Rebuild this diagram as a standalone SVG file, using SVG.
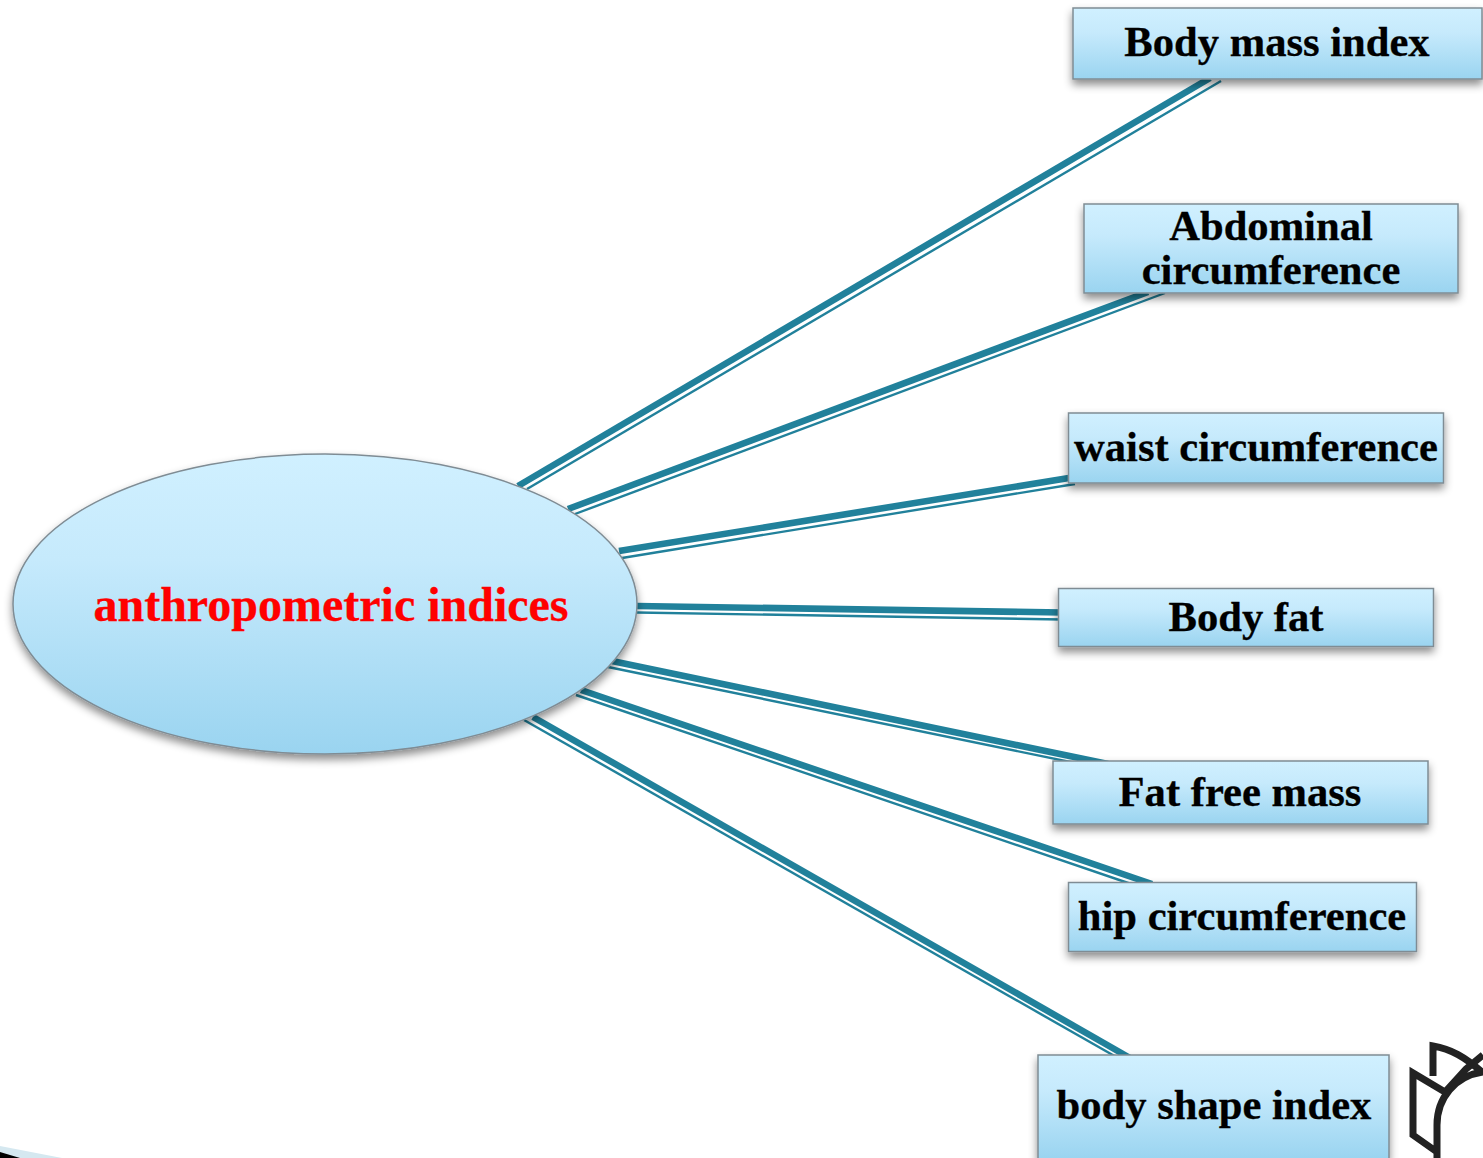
<svg xmlns="http://www.w3.org/2000/svg" width="1483" height="1158" viewBox="0 0 1483 1158">
<style>
.node{fill:url(#g);stroke:#7f8c94;stroke-width:1.5;filter:url(#s)}
.t{font-family:"Liberation Serif","Times New Roman",serif;font-weight:bold;font-size:42.6px;fill:#000;text-anchor:middle;stroke:#000;stroke-width:.3}
.a{stroke:#21819b;stroke-width:6.6;fill:none}
.b{stroke:#21819b;stroke-width:2.4;fill:none}
.l{stroke:#222;stroke-width:7;fill:none}
</style>
<defs>
<linearGradient id="g" x1="0" y1="0" x2="0" y2="1"><stop offset="0" stop-color="#d0f0ff"/><stop offset=".35" stop-color="#c6eafc"/><stop offset="1" stop-color="#9ad4f0"/></linearGradient>
<filter id="s" x="-10%" y="-20%" width="120%" height="145%"><feDropShadow dx="0" dy="5" stdDeviation="4" flood-color="#000" flood-opacity=".45"/></filter>
</defs>
<rect width="1483" height="1158" fill="#fff"/>
<g id="corner"><polygon points="0,1146 62,1158 0,1158" fill="#d5e8f0"/><polygon points="0,1152 20,1158 0,1158" fill="#000"/></g>
<g id="logo" class="l"><path d="M1433 1076V1046C1451 1049 1465 1057 1483 1073M1483 1055L1466 1069L1445 1092L1413 1073V1135L1437 1152M1483 1072C1455 1076 1437 1098 1437 1125V1158"/></g>
<g id="connectors">
<line class="a" x1="518" y1="486" x2="1210" y2="78"/><line class="b" x1="527" y1="489" x2="1221" y2="81"/>
<line class="a" x1="568" y1="509" x2="1148" y2="292"/><line class="b" x1="575" y1="514" x2="1165" y2="293"/>
<line class="a" x1="619" y1="551" x2="1075" y2="477"/><line class="b" x1="622" y1="558" x2="1075" y2="484"/>
<line class="a" x1="637" y1="606" x2="1062" y2="612.5"/><line class="b" x1="637" y1="612.5" x2="1062" y2="619.5"/>
<line class="a" x1="612" y1="661" x2="1108" y2="764"/><line class="b" x1="608" y1="667" x2="1075" y2="763"/>
<line class="a" x1="581" y1="690" x2="1152" y2="884"/><line class="b" x1="576" y1="695" x2="1134" y2="885"/>
<line class="a" x1="533" y1="717" x2="1130" y2="1058"/><line class="b" x1="524" y1="720" x2="1118" y2="1058"/>
</g>
<g id="n0"><ellipse class="node" cx="325" cy="604" rx="312" ry="150"/><text class="t" x="331" y="621" style="fill:#f00;stroke:#f00;font-size:48px">anthropometric indices</text></g>
<g id="n1"><rect class="node" x="1073" y="8" width="409" height="71"/><text class="t" x="1277" y="56">Body mass index</text></g>
<g id="n2"><rect class="node" x="1084" y="204" width="374" height="89"/><text class="t" x="1271" y="240">Abdominal</text><text class="t" x="1271" y="284">circumference</text></g>
<g id="n3"><rect class="node" x="1068.5" y="413" width="375" height="70"/><text class="t" x="1256" y="461">waist circumference</text></g>
<g id="n4"><rect class="node" x="1058.5" y="588.5" width="375" height="58"/><text class="t" x="1246" y="631">Body fat</text></g>
<g id="n5"><rect class="node" x="1053" y="761" width="375" height="63"/><text class="t" x="1240" y="806">Fat free mass</text></g>
<g id="n6"><rect class="node" x="1068.5" y="882.5" width="348" height="69"/><text class="t" x="1242" y="930">hip circumference</text></g>
<g id="n7"><rect class="node" x="1038" y="1055" width="351" height="104"/><text class="t" x="1214" y="1119">body shape index</text></g>
</svg>
